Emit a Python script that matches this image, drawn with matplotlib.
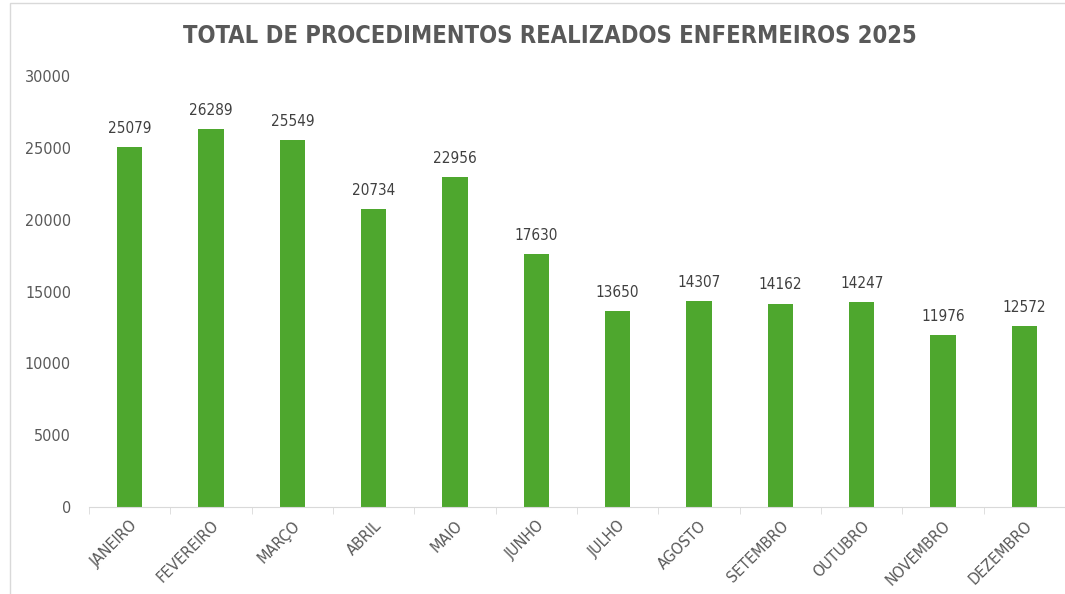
import matplotlib.pyplot as plt
from matplotlib.patches import Rectangle

meses = [
    "JANEIRO", "FEVEREIRO", "MARÇO", "ABRIL", "MAIO", "JUNHO",
    "JULHO", "AGOSTO", "SETEMBRO", "OUTUBRO", "NOVEMBRO", "DEZEMBRO"
]
procedimentos = [
    25079, 26289, 25549, 20734, 22956, 17630,
    13650, 14307, 14162, 14247, 11976, 12572
]
y_ticks = [0, 5000, 10000, 15000, 20000, 25000, 30000]

fonte = dict(family="DejaVu Sans", fontstretch="condensed")

fig = plt.figure(figsize=(10.65, 5.94), dpi=100)
ax = fig.add_axes([0.0836, 0.1465, 0.9164, 0.7255])

x = list(range(len(meses)))
ax.bar(x, procedimentos, width=0.31, color="#4ea72e")

for xi, v in zip(x, procedimentos):
    ax.annotate(
        str(v),
        (xi, v),
        xytext=(0, 8),
        textcoords="offset points",
        ha="center",
        va="bottom",
        fontsize=11,
        color="#404040",
        **fonte
    )

ax.set_xlim(-0.5, len(meses) - 0.5)
ax.set_ylim(0, 30000)
ax.set_yticks(y_ticks)
ax.set_yticklabels(
    [str(t) for t in y_ticks],
    fontsize=11.5,
    color="#595959",
    **fonte
)
ax.tick_params(axis="y", length=0, pad=13)

ax.set_xticks(x)
ax.set_xticklabels(
    meses,
    rotation=45,
    ha="right",
    rotation_mode="anchor",
    fontsize=11.5,
    color="#595959",
    **fonte
)
ax.tick_params(axis="x", length=0, pad=8)
ax.set_xticks([i - 0.5 for i in range(len(meses) + 1)], minor=True)
ax.tick_params(axis="x", which="minor", length=5, color="#d9d9d9")

for side in ["top", "right", "left"]:
    ax.spines[side].set_visible(False)
ax.spines["bottom"].set_color("#d9d9d9")

fig.text(
    0.516, 0.94,
    "TOTAL DE PROCEDIMENTOS REALIZADOS ENFERMEIROS 2025",
    ha="center",
    va="center",
    fontsize=17,
    fontweight="bold",
    color="#595959",
    **fonte
)

fig.patches.append(
    Rectangle(
        (0.0095, -0.01), 1.0, 1.005,
        transform=fig.transFigure,
        fill=False,
        edgecolor="#d9d9d9",
        linewidth=1
    )
)

fig.savefig("out.png")
